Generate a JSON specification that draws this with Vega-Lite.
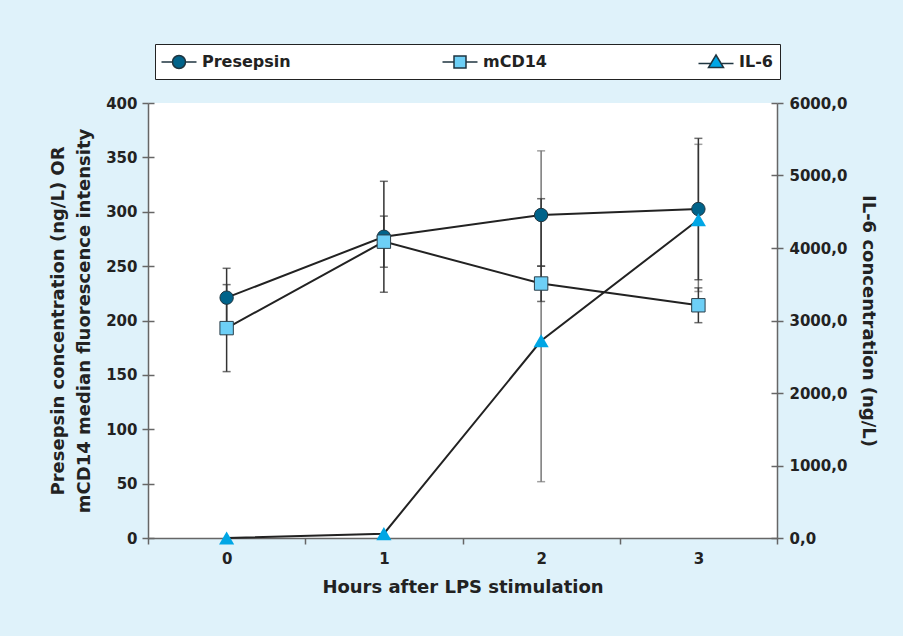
{
  "$schema": "https://vega.github.io/schema/vega-lite/v6.json",
  "width": 629,
  "height": 435,
  "autosize": {"type": "none"},
  "padding": {"left": 148, "top": 103, "right": 126, "bottom": 98},
  "background": "#dff2fa",
  "config": {
    "view": {"stroke": null, "fill": "white"},
    "font": "DejaVu Sans",
    "axis": {
      "labelFont": "DejaVu Sans", "labelFontWeight": "bold", "labelFontSize": 15, "labelColor": "#222",
      "titleFont": "DejaVu Sans", "titleFontWeight": "bold", "titleFontSize": 18, "titleColor": "#222",
      "domainColor": "#666", "tickColor": "#666", "domainWidth": 1.5, "tickWidth": 1.5, "tickSize": 6,
      "grid": false
    }
  },
  "datasets": {
    "pts": [
      {"hour": "0", "series": "Presepsin", "value": 221, "lo": 194, "hi": 248},
      {"hour": "1", "series": "Presepsin", "value": 277, "lo": 226, "hi": 328},
      {"hour": "2", "series": "Presepsin", "value": 297, "lo": 250, "hi": 312},
      {"hour": "3", "series": "Presepsin", "value": 302.5, "lo": 237.5, "hi": 367.5},
      {"hour": "0", "series": "mCD14", "value": 193, "lo": 153, "hi": 233},
      {"hour": "1", "series": "mCD14", "value": 272.5, "lo": 249, "hi": 296},
      {"hour": "2", "series": "mCD14", "value": 234, "lo": 217.5, "hi": 250},
      {"hour": "3", "series": "mCD14", "value": 214, "lo": 198, "hi": 230},
      {"hour": "0", "series": "IL-6", "value": 0, "lo": null, "hi": null},
      {"hour": "1", "series": "IL-6", "value": 60, "lo": null, "hi": null},
      {"hour": "2", "series": "IL-6", "value": 2720, "lo": 777, "hi": 5340},
      {"hour": "3", "series": "IL-6", "value": 4390, "lo": 3400, "hi": 5430}
    ]
  },
  "data": {"name": "pts"},
  "encoding": {
    "x": {
      "field": "hour", "type": "ordinal",
      "scale": {"type": "band", "paddingInner": 0, "paddingOuter": 0},
      "axis": {"title": "Hours after LPS stimulation", "labelAngle": 0, "tickBand": "extent", "labelPadding": 7, "titlePadding": 12}
    }
  },
  "layer": [
    {
      "transform": [{"filter": "datum.series === 'IL-6' && isValid(datum.lo)"}],
      "mark": {"type": "rule", "color": "#777", "strokeWidth": 1.5},
      "encoding": {
        "y": {"field": "lo", "type": "quantitative", "scale": {"domain": [0, 6000]},
              "axis": {"orient": "right", "values": [0,1000,2000,3000,4000,5000,6000], "tickSize": -6, "labels": false, "domain": false, "title": null}},
        "y2": {"field": "hi"}
      }
    },
    {
      "transform": [{"filter": "datum.series === 'IL-6' && isValid(datum.lo)"}],
      "mark": {"type": "tick", "color": "#777", "size": 8, "thickness": 1.5},
      "encoding": {"y": {"field": "lo", "type": "quantitative", "scale": {"domain": [0, 6000]}, "axis": null}}
    },
    {
      "transform": [{"filter": "datum.series === 'IL-6' && isValid(datum.hi)"}],
      "mark": {"type": "tick", "color": "#777", "size": 8, "thickness": 1.5},
      "encoding": {"y": {"field": "hi", "type": "quantitative", "scale": {"domain": [0, 6000]}, "axis": null}}
    },
    {
      "transform": [{"filter": "datum.series !== 'IL-6'"}],
      "mark": {"type": "rule", "color": "#333", "strokeWidth": 1.5},
      "encoding": {
        "y": {"field": "lo", "type": "quantitative", "scale": {"domain": [0, 400]},
              "axis": {"orient": "left", "values": [0,50,100,150,200,250,300,350,400], "tickSize": -6, "labels": false, "domain": false, "title": null}},
        "y2": {"field": "hi"}
      }
    },
    {
      "transform": [{"filter": "datum.series !== 'IL-6'"}],
      "mark": {"type": "tick", "color": "#333", "size": 8, "thickness": 1.5},
      "encoding": {"y": {"field": "lo", "type": "quantitative", "scale": {"domain": [0, 400]}, "axis": null}}
    },
    {
      "transform": [{"filter": "datum.series !== 'IL-6'"}],
      "mark": {"type": "tick", "color": "#333", "size": 8, "thickness": 1.5},
      "encoding": {"y": {"field": "hi", "type": "quantitative", "scale": {"domain": [0, 400]}, "axis": null}}
    },
    {
      "transform": [{"filter": "datum.series !== 'IL-6'"}],
      "mark": {"type": "line", "color": "#222", "strokeWidth": 2},
      "encoding": {
        "y": {"field": "value", "type": "quantitative", "scale": {"domain": [0, 400]},
              "axis": {"orient": "left", "values": [0,50,100,150,200,250,300,350,400], "labelPadding": 5, "titlePadding": 12, "titleLineHeight": 26,
                       "title": ["Presepsin concentration (ng/L) OR", "mCD14 median fluorescence intensity"]}},
        "detail": {"field": "series"}
      }
    },
    {
      "transform": [{"filter": "datum.series === 'IL-6'"}],
      "mark": {"type": "line", "color": "#222", "strokeWidth": 2},
      "encoding": {
        "y": {"field": "value", "type": "quantitative", "scale": {"domain": [0, 6000]},
              "axis": {"orient": "right", "values": [0,1000,2000,3000,4000,5000,6000], "labelPadding": 6, "titlePadding": 12,
                       "labelExpr": "replace(format(datum.value, '.1f'), '.', ',')", "title": "IL-6 concentration (ng/L)"}}
      }
    },
    {
      "transform": [{"filter": "datum.series === 'Presepsin'"}],
      "mark": {"type": "point", "shape": "circle", "filled": true, "size": 180, "stroke": "#1f3540", "strokeWidth": 1, "opacity": 1},
      "encoding": {
        "y": {"field": "value", "type": "quantitative", "scale": {"domain": [0, 400]}, "axis": null},
        "fill": {"field": "series", "type": "nominal", "scale": {"domain": ["Presepsin", "mCD14", "IL-6"], "range": ["#00638a", "#6dcff6", "#00a6e5"]}}
      }
    },
    {
      "transform": [{"filter": "datum.series === 'mCD14'"}],
      "mark": {"type": "point", "shape": "square", "filled": true, "size": 180, "stroke": "#2b3f4a", "strokeWidth": 1, "opacity": 1},
      "encoding": {
        "y": {"field": "value", "type": "quantitative", "scale": {"domain": [0, 400]}, "axis": null},
        "fill": {"field": "series", "type": "nominal"}
      }
    },
    {
      "transform": [{"filter": "datum.series === 'IL-6'"}],
      "mark": {"type": "point", "shape": "triangle-up", "filled": true, "size": 230, "opacity": 1},
      "encoding": {
        "y": {"field": "value", "type": "quantitative", "scale": {"domain": [0, 6000]}, "axis": null},
        "fill": {"field": "series", "type": "nominal"}
      }
    },
    {
      "mark": {"type": "point", "filled": true, "size": 10, "opacity": 0},
      "encoding": {
        "y": {"field": "value", "type": "quantitative", "scale": {"domain": [0, 6000]}, "axis": null},
        "fill": {"field": "series", "type": "nominal"},
        "shape": {
          "field": "series", "type": "nominal",
          "scale": {"domain": ["Presepsin", "mCD14", "IL-6"], "range": [
            "M-1.75,0H-0.65M0.65,0H1.75M0.65,0A0.65,0.65,0,1,1,-0.65,0A0.65,0.65,0,1,1,0.65,0Z",
            "M-1.75,0H-0.6M0.6,0H1.75M-0.6,-0.6H0.6V0.6H-0.6Z",
            "M-1.75,0.15H-0.5M0.5,0.15H1.75M0,-0.7L0.75,0.55H-0.75Z"
          ]},
          "legend": {
            "orient": "none", "legendX": 7, "legendY": -59, "direction": "horizontal", "title": null,
            "fillColor": "white", "strokeColor": "#222", "padding": 7, "gridAlign": "none", "columnPadding": 148,
            "labelFont": "DejaVu Sans", "labelFontWeight": "bold", "labelFontSize": 16, "labelColor": "#222",
            "symbolSize": 400, "labelOffset": 12, "symbolOffset": 6, "symbolOpacity": 1,
            "symbolStrokeColor": "#222", "symbolStrokeWidth": 1.5
          }
        }
      }
    }
  ],
  "resolve": {"scale": {"y": "independent"}, "axis": {"y": "independent"}}
}
